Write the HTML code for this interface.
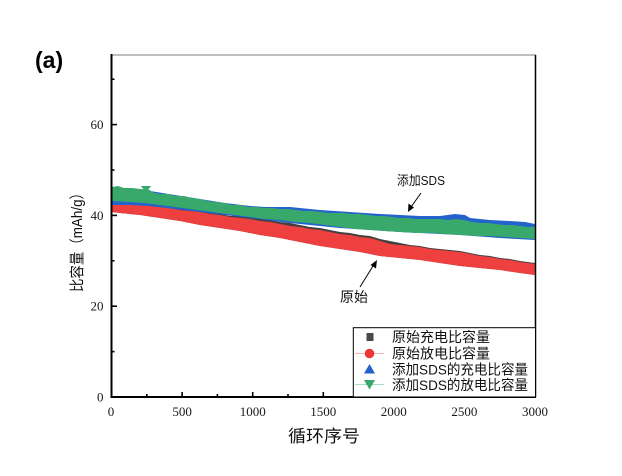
<!DOCTYPE html>
<html><head><meta charset="utf-8"><style>
html,body{margin:0;padding:0;background:#fff;}
svg{display:block;}
</style></head><body>
<svg width="622" height="476" viewBox="0 0 622 476" xmlns="http://www.w3.org/2000/svg">
<rect width="622" height="476" fill="#fff"/>
<text x="35" y="68" font-family="Liberation Sans, sans-serif" font-weight="bold" font-size="23" fill="#000">(a)</text>

<!-- series: gray (original charge) -->
<polygon fill="#454040" points="112,200 120,202 130,203 140,204 150,205 160,206 170,207 180,209 190,210 200,211 210,213 220,214 230,216 240,216 250,217 260,219 270,220 280,222 290,223 300,225 310,227 320,228 330,230 340,232 350,233 360,235 370,236 380,239 390,241 400,243 410,245 420,246 430,248 440,249 450,250 460,251 470,253 480,255 490,256 500,258 510,259 520,261 535,263 535,275 520,273 500,270 480,268 460,266 440,263 420,260 400,258 380,256 360,252 340,249 320,246 300,242 280,238 260,235 240,231 220,228 200,225 180,221 160,218 140,215 120,213 112,212"/>
<!-- red (original discharge) -->
<polygon fill="#ef4040" points="112,201 120,203 130,204 140,205 150,206 160,207 170,208 180,210 190,211 200,212 210,214 220,215 230,217 240,218 250,219 260,221 270,222 280,224 290,226 300,227 310,229 320,230 330,232 340,234 350,235 360,237 370,238 380,241 390,244 400,245 410,246 420,247 430,249 440,250 450,251 460,252 470,254 480,256 490,257 500,259 510,260 520,262 535,264 535,275 520,273 500,270 480,268 460,266 440,263 420,260 400,258 380,256 360,252 340,249 320,246 300,242 280,238 260,235 240,231 220,228 200,225 180,221 160,218 140,215 120,213 112,212"/>
<!-- blue (SDS charge) -->
<polygon fill="#2462cc" points="112,189 150,191 175,195 200,199 225,203 250,206 265,207 280,207 290,207 300,208 320,210 335,211 350,212 365,213 380,214 400,215 420,216 440,216 455,214 465,215 470,218 490,220 510,221 525,222 535,224 535,240 500,238 460,235 420,233 400,232 370,230 340,228 320,226 290,223 250,218 225,215 200,212 175,209 150,206 130,205 112,205"/>
<!-- green (SDS discharge) -->
<polygon fill="#39a96b" points="112,187 118,186 124,188 132,188 140,189 150,190 152,192 160,194 168,194 176,196 184,196 192,198 200,199 208,201 216,202 224,203 232,205 240,205 248,207 256,207 264,208 272,208 280,209 288,209 296,210 304,211 312,211 320,212 328,213 336,213 344,213 352,214 360,214 368,215 376,216 384,216 392,217 400,218 408,218 416,219 424,219 432,219 440,219 448,220 456,219 464,220 472,222 480,223 488,223 496,224 504,225 512,225 520,226 528,227 535,227 535,239 520,238 505,237 490,236 475,236 460,235 445,234 430,233 415,233 400,232 385,231 370,230 355,229 340,227 325,225 310,223 295,222 280,220 265,219 250,217 235,215 220,213 205,211 190,209 175,207 160,205 145,203 130,202 112,201"/>
<polygon fill="#39a96b" points="141,186 151,186 146,193"/>

<!-- frame -->
<line x1="111" y1="55" x2="536" y2="55" stroke="#999" stroke-width="1.2"/>
<line x1="535.5" y1="55" x2="535.5" y2="397" stroke="#000" stroke-width="1.5"/>
<line x1="111.5" y1="54" x2="111.5" y2="398" stroke="#000" stroke-width="2"/>
<line x1="110.5" y1="397" x2="536" y2="397" stroke="#000" stroke-width="2"/>

<!-- ticks -->
<g stroke="#000" stroke-width="1.6">
<line x1="182.1" y1="397" x2="182.1" y2="392"/>
<line x1="252.7" y1="397" x2="252.7" y2="392"/>
<line x1="323.3" y1="397" x2="323.3" y2="392"/>
<line x1="393.8" y1="397" x2="393.8" y2="392"/>
<line x1="464.4" y1="397" x2="464.4" y2="392"/>
<line x1="146.8" y1="397" x2="146.8" y2="394"/>
<line x1="217.4" y1="397" x2="217.4" y2="394"/>
<line x1="288" y1="397" x2="288" y2="394"/>
<line x1="358.5" y1="397" x2="358.5" y2="394"/>
<line x1="429.1" y1="397" x2="429.1" y2="394"/>
<line x1="499.7" y1="397" x2="499.7" y2="394"/>
<line x1="111.5" y1="306.2" x2="117" y2="306.2"/>
<line x1="111.5" y1="215.4" x2="117" y2="215.4"/>
<line x1="111.5" y1="124.6" x2="117" y2="124.6"/>
<line x1="111.5" y1="351.6" x2="114.5" y2="351.6"/>
<line x1="111.5" y1="260.8" x2="114.5" y2="260.8"/>
<line x1="111.5" y1="170" x2="114.5" y2="170"/>
<line x1="111.5" y1="79.2" x2="114.5" y2="79.2"/>
</g>

<!-- tick labels -->
<g font-family="Liberation Serif, serif" font-size="13" fill="#1a1a1a">
<g text-anchor="end">
<text x="103.5" y="401.5">0</text>
<text x="103.5" y="310.7">20</text>
<text x="103.5" y="219.9">40</text>
<text x="103.5" y="129.1">60</text>
</g>
<g text-anchor="middle">
<text x="111" y="416">0</text>
<text x="182.1" y="416">500</text>
<text x="252.7" y="416">1000</text>
<text x="323.3" y="416">1500</text>
<text x="393.8" y="416">2000</text>
<text x="464.4" y="416">2500</text>
<text x="535" y="416">3000</text>
</g>
</g>

<!-- axis titles -->
<text x="288" y="442" font-family="Liberation Sans, 'Noto Sans CJK SC', sans-serif" font-size="17" textLength="72" lengthAdjust="spacingAndGlyphs" fill="#111">循环序号</text>
<text transform="translate(82,292) rotate(-90)" x="0" y="0" font-family="Liberation Sans, 'Noto Sans CJK SC', sans-serif" font-size="15" textLength="106" lengthAdjust="spacingAndGlyphs" fill="#111">比容量（mAh/g）</text>

<!-- annotations -->
<text x="397" y="185" font-family="Liberation Sans, 'Noto Sans CJK SC', sans-serif" font-size="13" textLength="48" lengthAdjust="spacingAndGlyphs" fill="#111">添加SDS</text>
<line x1="421" y1="193" x2="411" y2="207" stroke="#000" stroke-width="1"/>
<polygon points="408,212 408.5,203.5 414,207.5" fill="#000"/>
<text x="340" y="302" font-family="Liberation Sans, 'Noto Sans CJK SC', sans-serif" font-size="14" textLength="28" lengthAdjust="spacingAndGlyphs" fill="#111">原始</text>
<line x1="360" y1="287" x2="373" y2="266" stroke="#000" stroke-width="1"/>
<polygon points="377,260 376,268.5 370.5,265" fill="#000"/>

<!-- legend -->
<rect x="353.3" y="327.7" width="182.2" height="69.3" fill="#fff" stroke="#000" stroke-width="1"/>
<rect x="366.5" y="333" width="7" height="8" fill="#4a4a4a"/>
<line x1="355" y1="353.5" x2="384" y2="353.5" stroke="#f5b5b5" stroke-width="1"/>
<circle cx="369.5" cy="353.5" r="4.8" fill="#ef3535"/>
<polygon points="369.5,364 375,373.5 364,373.5" fill="#2462cc"/>
<line x1="355" y1="384.5" x2="384" y2="384.5" stroke="#a8dcc0" stroke-width="1"/>
<polygon points="364,380 375,380 369.5,389.5" fill="#39a96b"/>
<g font-family="Liberation Sans, 'Noto Sans CJK SC', sans-serif" font-size="14" fill="#111">
<text x="392" y="342" textLength="98" lengthAdjust="spacingAndGlyphs">原始充电比容量</text>
<text x="392" y="358.5" textLength="98" lengthAdjust="spacingAndGlyphs">原始放电比容量</text>
<text x="392" y="374.5" textLength="136" lengthAdjust="spacingAndGlyphs">添加SDS的充电比容量</text>
<text x="392" y="390" textLength="136" lengthAdjust="spacingAndGlyphs">添加SDS的放电比容量</text>
</g>
</svg>
</body></html>
